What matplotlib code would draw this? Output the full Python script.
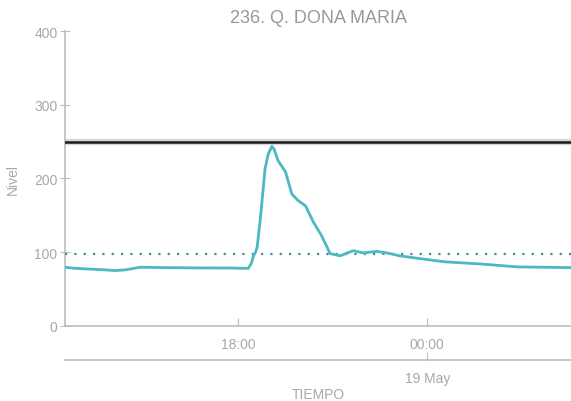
import matplotlib.pyplot as plt
import matplotlib.dates as mdates
import pandas as pd

plt.rcParams['font.family'] = ['Liberation Sans', 'DejaVu Sans']

# readings of the level, 18-19 May
times = ["2019-05-18 12:30", "2019-05-18 12:50", "2019-05-18 13:18", "2019-05-18 13:45",
         "2019-05-18 14:06", "2019-05-18 14:25", "2019-05-18 14:53", "2019-05-18 15:40",
         "2019-05-18 16:47", "2019-05-18 17:40", "2019-05-18 18:19", "2019-05-18 18:25",
         "2019-05-18 18:29", "2019-05-18 18:33", "2019-05-18 18:36", "2019-05-18 18:42",
         "2019-05-18 18:51", "2019-05-18 18:57", "2019-05-18 19:04", "2019-05-18 19:08",
         "2019-05-18 19:16", "2019-05-18 19:30", "2019-05-18 19:42", "2019-05-18 19:54",
         "2019-05-18 20:08", "2019-05-18 20:23", "2019-05-18 20:39", "2019-05-18 20:55",
         "2019-05-18 21:14", "2019-05-18 21:39", "2019-05-18 21:58", "2019-05-18 22:24",
         "2019-05-18 22:43", "2019-05-18 23:08", "2019-05-18 23:28", "2019-05-19 00:31",
         "2019-05-19 01:41", "2019-05-19 02:52", "2019-05-19 04:34"]
nivel = [79.5, 78, 77, 76, 75, 76, 79.5, 79, 78.6, 78.5, 78, 85,
         95, 100, 107, 145, 213, 233, 243.6, 240,
         224, 209, 179, 170, 163, 141, 122, 98,
         95, 102, 99, 101, 99, 95, 93, 87,
         84, 80, 79]
umbral_alto = 250
umbral_medio = 97

t = pd.to_datetime(times)
gris = '#a8a8a8'

fig = plt.figure(figsize=(5.71, 4.02), dpi=100)
ax = fig.add_axes([0.114, 0.187, 0.886, 0.733])

ax.axhline(umbral_alto, color='#d6d6d6', lw=4.5, zorder=2)
ax.axhline(umbral_alto, color='#1a1a1a', lw=1.8, zorder=3)
ax.axhline(umbral_medio, color='#3c8c9c', lw=1.6, ls=(0, (1, 3.2)), zorder=3)
ax.plot(t, nivel, color='#4bb8c2', lw=2, zorder=4)

ax.set_ylim(0, 400)
ax.set_xlim(t[0], t[-1])
ax.set_yticks([0, 100, 200, 300, 400])

ax.xaxis.set_major_locator(mdates.HourLocator(byhour=[0, 18]))
ax.xaxis.set_major_formatter(mdates.DateFormatter('%H:%M'))

for s in ['top', 'right']:
    ax.spines[s].set_visible(False)
for s in ['left', 'bottom']:
    ax.spines[s].set_color('#bdbdbd')
    ax.spines[s].set_linewidth(1.2)

ax.tick_params(axis='y', direction='inout', length=7, color='#bdbdbd',
               labelcolor=gris, labelsize=10, pad=2)
ax.tick_params(axis='x', direction='in', length=6, color='#bdbdbd',
               labelcolor=gris, labelsize=10, pad=8)

sec = ax.secondary_xaxis(-0.115)
sec.xaxis.set_major_locator(mdates.DayLocator())
sec.xaxis.set_major_formatter(mdates.DateFormatter('%d %b'))
sec.spines['bottom'].set_color('#bdbdbd')
sec.spines['bottom'].set_linewidth(1.2)
sec.tick_params(direction='in', length=6, color='#bdbdbd', labelcolor=gris,
                labelsize=10, pad=8)

ax.set_ylabel('Nivel', color=gris, fontsize=10, labelpad=10)
fig.text(0.557, 0.008, 'TIEMPO', color=gris, fontsize=10, ha='center')
fig.text(0.557, 0.942, '236. Q. DONA MARIA', color='#999999', fontsize=13, ha='center')

fig.savefig('out.png', dpi=100)
